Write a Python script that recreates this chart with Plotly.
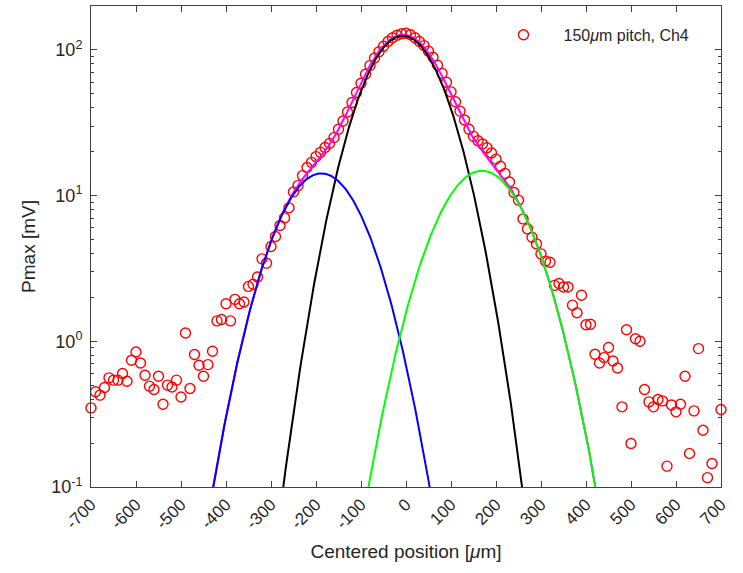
import numpy as np
import plotly.graph_objects as go

x_um = [-700, -690, -680, -670, -660, -650, -640, -630, -620, -610,
        -600, -590, -580, -570, -560, -550, -540, -530, -520, -510,
        -500, -490, -480, -470, -460, -450, -440, -430, -420, -410,
        -400, -390, -380, -370, -360, -350, -340, -330, -320, -310,
        -300, -290, -280, -270, -260, -250, -240, -230, -220, -210,
        -200, -190, -180, -170, -160, -150, -140, -130, -120, -110,
        -100, -90, -80, -70, -60, -50, -40, -30, -20, -10,
        0, 10, 20, 30, 40, 50, 60, 70, 80, 90,
        100, 110, 120, 130, 140, 150, 160, 170, 180, 190,
        200, 210, 220, 230, 240, 250, 260, 270, 280, 290,
        300, 310, 320, 330, 340, 350, 360, 370, 380, 390,
        400, 410, 420, 430, 440, 450, 460, 470, 480, 490,
        500, 510, 520, 530, 540, 550, 560, 570, 580, 590,
        600, 610, 620, 630, 640, 650, 660, 670, 680, 700]
pmax_mV = [0.349, 0.45, 0.427, 0.482, 0.561, 0.541, 0.541, 0.601, 0.532, 0.741,
           0.845, 0.710, 0.585, 0.492, 0.467, 0.576, 0.370, 0.500, 0.486, 0.541,
           0.415, 1.14, 0.474, 0.811, 0.685, 0.576, 0.692, 0.855, 1.38, 1.41,
           1.81, 1.38, 1.94, 1.81, 1.86, 2.38, 2.46, 2.76, 3.68, 3.44,
           4.47, 5.24, 6.23, 7.03, 8.24, 10.6, 11.7, 13.7, 15.6, 16.9,
           18.5, 19.8, 21.4, 22.8, 25.0, 28.5, 32.5, 37.5, 43.5, 51.0,
           59.0, 68.0, 78.0, 88.0, 97.0, 106.0, 114.0, 121.0, 126.0, 129.0,
           130.0, 127.0, 121.0, 114.0, 107.0, 98.0, 89.0, 78.5, 69.0, 60.0,
           51.5, 44.0, 38.0, 33.0, 28.5, 25.5, 23.8, 22.6, 21.3, 19.6,
           17.8, 15.9, 14.2, 12.4, 10.5, 9.3, 6.92, 5.91, 5.18, 4.66,
           3.98, 3.55, 3.49, 2.42, 2.49, 2.36, 2.36, 1.77, 1.57, 2.07,
           1.30, 1.31, 0.815, 0.71, 0.773, 0.906, 0.733, 0.656, 0.355, 1.20,
           0.199, 1.04, 1.00, 0.467, 0.384, 0.355, 0.399, 0.390, 0.139, 0.365,
           0.328, 0.370, 0.575, 0.170, 0.333, 0.891, 0.245, 0.116, 0.145, 0.340]

# ---- fitted gaussian components: amplitude [mV], centre [um], sigma [um] ----
fit_names = ["central", "left", "right"]
fit_amp = [125.0, 14.2, 14.8]
fit_mu = [-7.0, -188.0, 169.0]
fit_sigma = [70.4, 76.4, 79.9]
fit_colors = ["#000000", "#0000ff", "#00ff00"]
fit_span = [(-300, 290), (-470, 90), (-120, 470)]

x_ticks = list(range(-700, 701, 100))
y_ticks = [0.1, 1, 10, 100]
y_ticktext = ["10<sup>-1</sup>", "10<sup>0</sup>", "10<sup>1</sup>", "10<sup>2</sup>"]
y_minor = [m * d for d in (0.1, 1, 10, 100) for m in range(2, 10) if m * d <= 200]


def gauss(x, a, mu, s):
    return a * np.exp(-((x - mu) ** 2) / (2 * s ** 2))


fig = go.Figure()

fig.add_trace(go.Scatter(
    x=x_um, y=pmax_mV, mode="markers", name="150<i>μ</i>m pitch, Ch4",
    marker=dict(symbol="circle-open", size=10, color="#ff0000",
                line=dict(width=1.4, color="#ff0000")),
    cliponaxis=False))

# sum of components (magenta)
xs = np.arange(-470, 471, 2.0)
total = sum(gauss(xs, a, m, s) for a, m, s in zip(fit_amp, fit_mu, fit_sigma))
fig.add_trace(go.Scatter(x=xs, y=total, mode="lines", showlegend=False,
                         line=dict(color="#ff00ff", width=2)))

for a, m, s, c, (lo, hi) in zip(fit_amp, fit_mu, fit_sigma, fit_colors, fit_span):
    xc = np.arange(lo, hi + 1, 2.0)
    fig.add_trace(go.Scatter(x=xc, y=gauss(xc, a, m, s), mode="lines",
                             showlegend=False, line=dict(color=c, width=2)))

axis_col = "#404040"
font_col = "#262626"
fig.update_layout(
    width=743, height=573,
    margin=dict(l=91, r=22, t=6, b=86),
    plot_bgcolor="white", paper_bgcolor="white",
    font=dict(family="Liberation Sans, Arial, sans-serif", size=17, color=font_col),
    showlegend=True,
    legend=dict(x=0.623, y=0.94, xanchor="left", yanchor="middle",
                bgcolor="rgba(255,255,255,0)", borderwidth=0,
                font=dict(size=16, color=font_col), itemwidth=70),
    xaxis=dict(range=[-700, 700], tickmode="array", tickvals=x_ticks,
               ticktext=[str(v) for v in x_ticks], tickangle=-45,
               ticks="inside", ticklen=6, tickcolor=axis_col,
               showline=True, linecolor=axis_col, linewidth=1, mirror="ticks",
               showgrid=False, zeroline=False,
               tickfont=dict(size=17, color=font_col),
               title=dict(text="Centered position [<i>μ</i>m]", font=dict(size=19), standoff=12)),
    yaxis=dict(type="log", range=[-1, np.log10(200)], tickmode="array",
               tickvals=y_ticks, ticktext=y_ticktext,
               ticks="inside", ticklen=6, tickcolor=axis_col,
               showline=True, linecolor=axis_col, linewidth=1, mirror="ticks",
               showgrid=False, zeroline=False, ticklabelstandoff=4,
               minor=dict(tickmode="array", tickvals=y_minor, ticks="inside",
                          ticklen=3, tickcolor=axis_col),
               tickfont=dict(size=18, color=font_col),
               title=dict(text="Pmax [mV]", font=dict(size=19), standoff=10)),
)

fig.write_html("out.html")
